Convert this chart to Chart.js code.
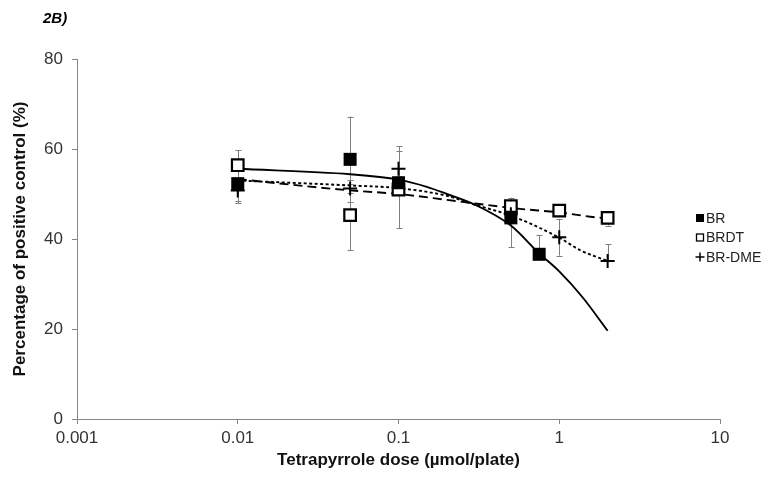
<!DOCTYPE html>
<html>
<head>
<meta charset="utf-8">
<script src="https://cdn.jsdelivr.net/npm/chart.js@4/dist/chart.umd.min.js"></script>
<style>
  html, body { margin: 0; padding: 0; background: #fff; }
  #wrap { width: 768px; height: 477px; position: relative; }
</style>
</head>
<body>
<div id="wrap"><canvas id="dose-chart"></canvas></div>
<script>
// Dose-response plot: % of positive control vs tetrapyrrole dose (log x axis)

/* ---------- axis ticks ---------- */
const xTicks      = [0.001, 0.01, 0.1, 1, 10];
const xTickLabels = ['0.001', '0.01', '0.1', '1', '10'];
const yTicks      = [0, 20, 40, 60, 80];

/* ---------- BR (filled squares) ---------- */
const brDose    = [0.01, 0.05, 0.1, 0.5, 0.75];
const brValue   = [52.3, 57.7, 52.5, 44.7, 36.6];
const brErrUp   = [3.8, 9.5, 1.5, 4.5, 4.2];
const brErrDown = [3.8, 9.5, 1.5, 6.5, 0];

/* ---------- BRDT (open squares) ---------- */
const brdtDose    = [0.01, 0.05, 0.1, 0.5, 1, 2];
const brdtValue   = [56.4, 45.3, 51.0, 47.3, 46.3, 44.7];
const brdtErrUp   = [3.3, 7.8, 8.6, 1.7, 1.0, 1.5];
const brdtErrDown = [3.3, 7.8, 8.6, 1.7, 1.0, 1.7];

/* ---------- BR-DME (crosses) ---------- */
const dmeDose    = [0.01, 0.05, 0.1, 0.5, 1, 2];
const dmeValue   = [50.8, 51.2, 55.6, 45.5, 40.4, 35.1];
const dmeErrUp   = [1.5, 1.0, 5.0, 1.5, 4.1, 3.7];
const dmeErrDown = [2.8, 1.0, 5.0, 1.5, 4.1, 0];

/* ---------- trend curves ---------- */
const brFitDose    = [0.01, 0.05, 0.1, 0.15, 0.2, 0.3, 0.5, 0.75, 1, 1.4, 2];
const brFitValue   = [55.6, 54.4, 53.2, 51.6, 50.0, 47.6, 43.0, 36.8, 32.8, 27.0, 19.6];
const brdtFitDose  = [0.01, 0.05, 0.1, 0.2, 0.3, 0.57, 1, 1.7, 2];
const brdtFitValue = [53.3, 50.8, 50.0, 48.7, 47.9, 46.7, 45.9, 44.8, 44.6];
const dmeFitDose   = [0.01, 0.05, 0.1, 0.2, 0.3, 0.5, 1, 1.35, 2];
const dmeFitValue  = [53.0, 51.9, 51.3, 49.6, 47.6, 45.2, 40.3, 37.5, 35.1];

const FONT = '"Liberation Sans", Arial, sans-serif';
const AXIS_GREY = '#868686';

function pts(xs, ys) {
  return xs.map((x, i) => ({ x: x, y: ys[i] }));
}

/* ---------- error bars, drawn under the markers ---------- */
const errorBars = {
  id: 'errorBars',
  beforeDatasetsDraw(chart) {
    const { ctx, scales: { x, y } } = chart;
    ctx.save();
    ctx.strokeStyle = '#7f7f7f';
    ctx.lineWidth = 1;
    chart.data.datasets.forEach(ds => {
      if (!ds.errUp) return;
      ds.data.forEach((p, i) => {
        const px = Math.round(x.getPixelForValue(p.x)) + 0.5;
        const yc = y.getPixelForValue(p.y);
        const ends = [];
        if (ds.errUp[i] > 0)   ends.push(y.getPixelForValue(p.y + ds.errUp[i]));
        if (ds.errDown[i] > 0) ends.push(y.getPixelForValue(p.y - ds.errDown[i]));
        ends.forEach(ye => {
          ctx.beginPath();
          ctx.moveTo(px, yc);
          ctx.lineTo(px, ye);
          ctx.moveTo(px - 3, Math.round(ye) + 0.5);
          ctx.lineTo(px + 3, Math.round(ye) + 0.5);
          ctx.stroke();
        });
      });
    });
    ctx.restore();
  }
};

/* ---------- panel tag and marker-only legend ---------- */
const legendItems = [
  { text: 'BR',     style: 'filled' },
  { text: 'BRDT',   style: 'open' },
  { text: 'BR-DME', style: 'cross' }
];

const panelDecor = {
  id: 'panelDecor',
  afterDraw(chart) {
    const ctx = chart.ctx;
    ctx.save();
    ctx.fillStyle = '#000';
    ctx.font = 'italic bold 15px ' + FONT;
    ctx.textBaseline = 'alphabetic';
    ctx.textAlign = 'left';
    ctx.fillText('2B)', 43, 23);

    ctx.font = '14px ' + FONT;
    ctx.textBaseline = 'middle';
    legendItems.forEach((it, i) => {
      const cy = 218 + i * 19.5;
      const cx = 700;
      ctx.fillStyle = '#000';
      ctx.strokeStyle = '#000';
      if (it.style === 'filled') {
        ctx.fillRect(cx - 4, cy - 4, 8, 8);
      } else if (it.style === 'open') {
        ctx.lineWidth = 1.3;
        ctx.strokeRect(cx - 3.5, cy - 3.5, 7, 7);
      } else {
        ctx.lineWidth = 1.5;
        ctx.beginPath();
        ctx.moveTo(cx - 4.5, cy); ctx.lineTo(cx + 4.5, cy);
        ctx.moveTo(cx, cy - 4.5); ctx.lineTo(cx, cy + 4.5);
        ctx.stroke();
      }
      ctx.fillStyle = '#222';
      ctx.fillText(it.text, 706, cy + 1);
    });
    ctx.restore();
  }
};

const lineBase = {
  showLine: true,
  pointRadius: 0,
  borderColor: '#000',
  backgroundColor: '#000',
  borderWidth: 1.9,
  cubicInterpolationMode: 'monotone',
  order: 5
};

const datasets = [
  {
    label: 'BR-DME',
    data: pts(dmeDose, dmeValue),
    errUp: dmeErrUp, errDown: dmeErrDown,
    pointStyle: 'cross',
    pointRadius: 7,
    pointBorderWidth: 2,
    borderColor: '#000',
    backgroundColor: '#000',
    order: 0
  },
  {
    label: 'BR',
    data: pts(brDose, brValue),
    errUp: brErrUp, errDown: brErrDown,
    pointStyle: 'rect',
    pointRadius: 9.2,
    pointBorderWidth: 0,
    borderColor: '#000',
    backgroundColor: '#000',
    order: 1
  },
  {
    label: 'BRDT',
    data: pts(brdtDose, brdtValue),
    errUp: brdtErrUp, errDown: brdtErrDown,
    pointStyle: 'rect',
    pointRadius: 8.2,
    pointBorderWidth: 2.2,
    borderColor: '#000',
    backgroundColor: '#fff',
    order: 2
  },
  Object.assign({}, lineBase, { label: 'BR fit',     data: pts(brFitDose, brFitValue) }),
  Object.assign({}, lineBase, { label: 'BRDT fit',   data: pts(brdtFitDose, brdtFitValue), borderDash: [9, 5] }),
  Object.assign({}, lineBase, { label: 'BR-DME fit', data: pts(dmeFitDose, dmeFitValue), borderDash: [3, 2.5] })
];

new Chart(document.getElementById('dose-chart'), {
  type: 'scatter',
  data: { datasets: datasets },
  options: {
    responsive: true,
    maintainAspectRatio: false,
    animation: false,
    layout: { padding: { left: 0, top: 59, right: 48, bottom: 0 } },
    plugins: {
      legend: { display: false },
      tooltip: { enabled: false }
    },
    scales: {
      x: {
        type: 'logarithmic',
        min: 0.001,
        max: 10,
        afterBuildTicks: s => { s.ticks = xTicks.map(v => ({ value: v })); },
        afterFit: s => { s.height = 58; },
        ticks: {
          autoSkip: false,
          maxRotation: 0,
          padding: 4,
          color: '#333',
          font: { family: FONT, size: 17 },
          callback: (v) => xTickLabels[xTicks.indexOf(v)]
        },
        grid: { display: true, drawOnChartArea: false, drawTicks: true, tickLength: 5, color: AXIS_GREY },
        border: { display: true, color: AXIS_GREY, width: 1 },
        title: {
          display: true,
          text: 'Tetrapyrrole dose (µmol/plate)',
          color: '#111',
          font: { family: FONT, size: 17, weight: 'bold' },
          padding: { top: 0, bottom: 6 }
        }
      },
      y: {
        type: 'linear',
        min: 0,
        max: 80,
        afterBuildTicks: s => { s.ticks = yTicks.map(v => ({ value: v })); },
        afterFit: s => { s.width = 77; },
        ticks: {
          padding: 9,
          color: '#333',
          font: { family: FONT, size: 17 }
        },
        grid: { display: true, drawOnChartArea: false, drawTicks: true, tickLength: 5, color: AXIS_GREY },
        border: { display: true, color: AXIS_GREY, width: 1 },
        title: {
          display: true,
          text: 'Percentage of positive control (%)',
          color: '#111',
          font: { family: FONT, size: 17, weight: 'bold' },
          padding: { top: 10, bottom: 0 }
        }
      }
    }
  },
  plugins: [errorBars, panelDecor]
});
</script>
</body>
</html>
